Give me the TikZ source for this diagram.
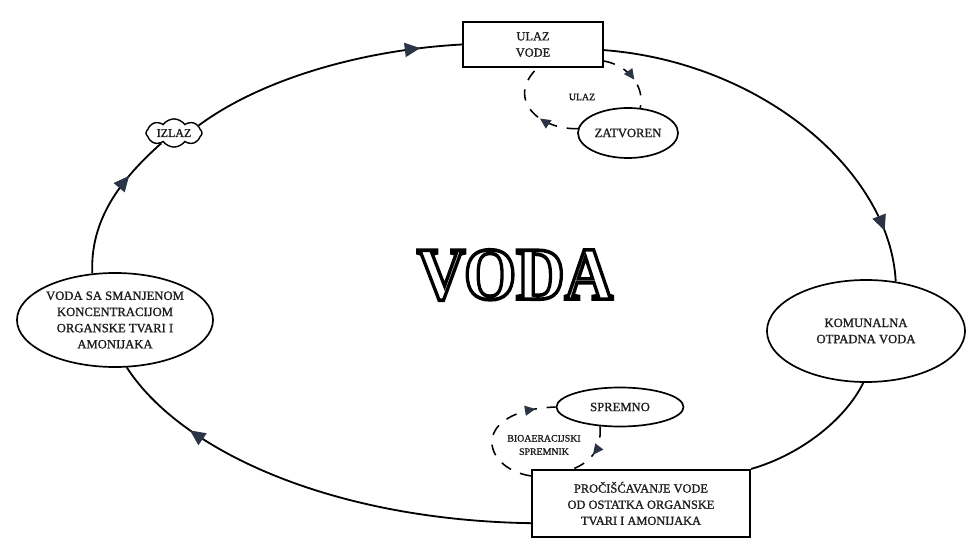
\documentclass[tikz,border=0pt]{standalone}
\usepackage{fontspec}
\setmainfont{Liberation Serif}[FakeBold=1.2]
\newfontfamily\titlefont{Liberation Serif Bold}
\usepackage{graphicx}
\usetikzlibrary{shapes.geometric,shapes.symbols,arrows.meta,decorations.markings}

\definecolor{inkblue}{HTML}{2B3446}
\definecolor{inktext}{HTML}{1E1E1E}
% hollow letters: white fill, black stroke
\newcommand\hollowtext[1]{\special{pdf:literal direct 2 Tr 2.6 w 1 g 0 G}#1\special{pdf:literal direct 0 Tr 0 g 0 G}}

\begin{document}
\begin{tikzpicture}[x=0.025cm,y=-0.025cm,text=inktext,
        stage/.style={ellipse,draw,line width=1.2pt,inner sep=0pt,align=center,
            font=\fontsize{9}{11.5}\selectfont},
        tank/.style={rectangle,draw,line width=1.5pt,inner sep=0pt,align=center,
            font=\fontsize{8.8}{11.5}\selectfont},
        note/.style={align=center,inner sep=0pt,font=\fontsize{7}{9.5}\selectfont},
        voda/.style={inner sep=0pt,font=\titlefont\fontsize{53}{53}\selectfont},
        flow/.style={line width=1.3pt},
        cycle/.style={line width=1.1pt,dash pattern=on 8pt off 7pt},
        tip/.style={postaction=decorate,decoration={markings,
            mark=at position #1 with {\arrow[inkblue]{Triangle[length=11pt,width=10pt]}}}},
        smalltip/.style={postaction=decorate,decoration={markings,
            mark=at position #1 with {\arrow[inkblue]{Triangle[length=7.5pt,width=7pt]}}}}]
    \useasboundingbox[fill=white] (0,0) rectangle (968,544);

    % title
    \node[voda] (voda) at (515,275) {\scalebox{0.9}[1]{\hollowtext{VODA}}};

    % nodes of the cycle
    \node[tank,minimum width=3.5cm,minimum height=1.125cm] (ulaz) at (533,44.5) {ULAZ\\VODE};
    \node[stage,minimum width=2.5cm,minimum height=1.25cm] (zatvoren) at (628,133) {ZATVOREN};
    \node[note] (ulazlabel) at (582,97) {ULAZ};
    \node[cloud,draw,cloud puffs=8,cloud puff arc=110,aspect=2.6,inner sep=0.5pt,line width=1pt,
        minimum width=1.4cm,minimum height=0.5cm,font=\fontsize{8.5}{11}\selectfont] (izlaz) at (174,133) {IZLAZ};
    \node[stage,minimum width=4.9cm,minimum height=2.35cm] (smanjeno) at (115,320)
        {VODA SA SMANJENOM\\KONCENTRACIJOM\\ORGANSKE TVARI I\\AMONIJAKA};
    \node[stage,minimum width=4.95cm,minimum height=2.55cm] (komunalna) at (866,331) {KOMUNALNA\\OTPADNA VODA};
    \node[stage,minimum width=3.175cm,minimum height=0.975cm] (spremno) at (620,407) {SPREMNO};
    \node[note] (bioaer) at (544,445) {BIOAERACIJSKI\\SPREMNIK};
    \node[tank,minimum width=5.45cm,minimum height=1.675cm] (proc) at (641,503.5)
        {PROČIŠĆAVANJE VODE\\OD OSTATKA ORGANSKE\\TVARI I AMONIJAKA};

    % main cycle
    \draw[flow,tip=0.87] ([yshift=-4pt]ulaz.east) .. controls (760,62) and (890,170) .. (komunalna.59);
    \draw[flow] (komunalna.267) .. controls (845,420) and (800,455) .. (proc.north east);
    \draw[flow,tip=0.8] ([yshift=-14pt]proc.west) .. controls (330,520) and (180,450) .. (smanjeno.284);
    \draw[flow,tip=0.7] (smanjeno.116) .. controls (90,220) and (120,180) .. (izlaz.219);
    \draw[flow,tip=0.85] (izlaz.17) .. controls (260,80) and (360,50) .. (ulaz.west);

    % small loops
    \draw[cycle,smalltip=0.55] ([yshift=5pt]ulaz.south east) .. controls (630,66) and (645,88) .. (zatvoren.64);
    \draw[cycle,smalltip=0.4] (zatvoren.175) .. controls (540,130) and (505,100) .. ([xshift=3pt]ulaz.south);
    \draw[cycle,smalltip=0.85] ([yshift=-5pt]proc.north west) .. controls (480,468) and (470,410) .. (spremno.west);
    \draw[cycle,smalltip=0.55] (spremno.224) .. controls (602,450) and (590,462) .. ([xshift=30pt]proc.north west);
\end{tikzpicture}
\end{document}
